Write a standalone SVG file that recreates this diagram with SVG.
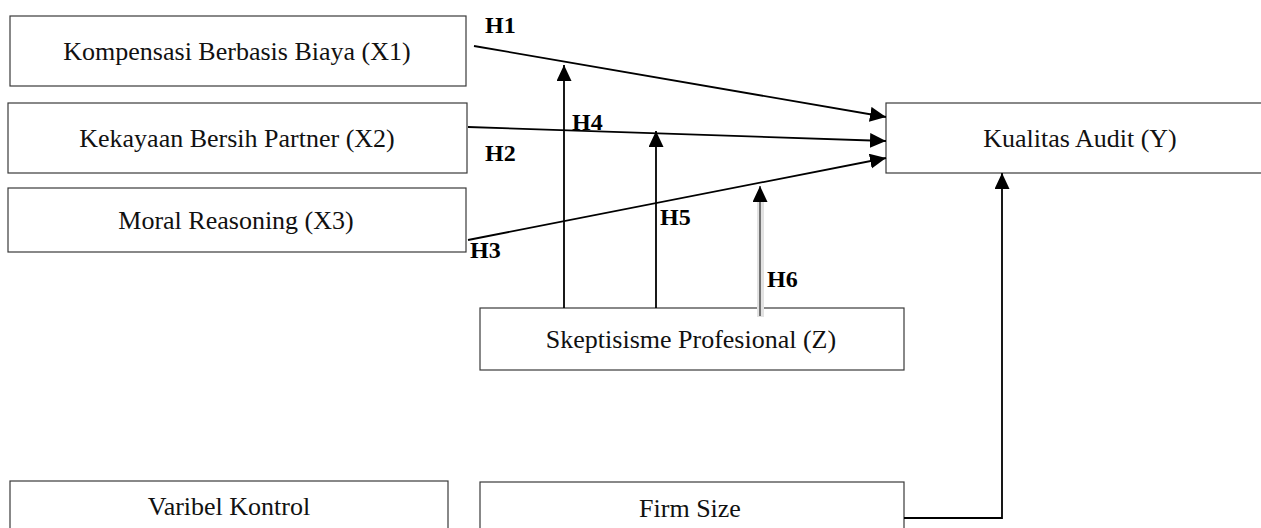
<svg xmlns="http://www.w3.org/2000/svg" width="1261" height="528" viewBox="0 0 1261 528">
<style>
.box{fill:#fff;stroke:#3a3a3a;stroke-width:1.2}
.lbl{font-family:"Liberation Serif","Times New Roman",serif;font-size:26px;fill:#111;text-anchor:middle}
.h{font-family:"Liberation Serif","Times New Roman",serif;font-size:24px;font-weight:bold;fill:#000}
.con{fill:none;stroke:#000;stroke-width:1.8}
</style>
<defs>
<marker id="arr" markerUnits="userSpaceOnUse" markerWidth="18" markerHeight="16" refX="16" refY="7.5" orient="auto">
<path d="M0,0 L16,7.5 L0,15 Z" fill="#000"/>
</marker>
</defs>
<rect width="1261" height="528" fill="#fff"/>
<g id="node-x1"><rect class="box" x="10" y="16" width="456" height="70"/><text class="lbl" x="237" y="60">Kompensasi Berbasis Biaya (X1)</text></g>
<g id="node-x2"><rect class="box" x="8" y="103" width="459" height="70"/><text class="lbl" x="237" y="147">Kekayaan Bersih Partner (X2)</text></g>
<g id="node-x3"><rect class="box" x="8" y="188" width="458" height="64"/><text class="lbl" x="236" y="229">Moral Reasoning (X3)</text></g>
<g id="node-y"><rect class="box" x="886" y="103" width="390" height="70"/><text class="lbl" x="1080" y="147">Kualitas Audit (Y)</text></g>
<g id="node-z"><rect class="box" x="480" y="308" width="424" height="62"/><text class="lbl" x="691" y="348">Skeptisisme Profesional (Z)</text></g>
<g id="node-kontrol"><rect class="box" x="10" y="481" width="438" height="60"/><text class="lbl" x="229" y="515">Varibel Kontrol</text></g>
<g id="node-firmsize"><rect class="box" x="480" y="482" width="424" height="60"/><text class="lbl" x="690" y="517">Firm Size</text></g>
<g id="connectors">
<line class="con" x1="474" y1="46" x2="886" y2="117" marker-end="url(#arr)"/>
<line class="con" x1="468" y1="127" x2="886" y2="141" marker-end="url(#arr)"/>
<line class="con" x1="468" y1="240" x2="886" y2="158" marker-end="url(#arr)"/>
<line class="con" x1="564" y1="308" x2="564" y2="65" marker-end="url(#arr)"/>
<line class="con" x1="656" y1="308" x2="656" y2="131" marker-end="url(#arr)"/>
<rect x="757" y="196" width="7" height="121" fill="#e2e2e2"/>
<line x1="760" y1="316" x2="760" y2="186" stroke="#666" stroke-width="1.8" marker-end="url(#arr)"/>
<path class="con" d="M904,518 H1002 V173" marker-end="url(#arr)"/>
</g>
<g id="labels">
<text class="h" x="485" y="33">H1</text>
<text class="h" x="485" y="161">H2</text>
<text class="h" x="470" y="258">H3</text>
<text class="h" x="572" y="130">H4</text>
<text class="h" x="660" y="225">H5</text>
<text class="h" x="767" y="287">H6</text>
</g>
</svg>
